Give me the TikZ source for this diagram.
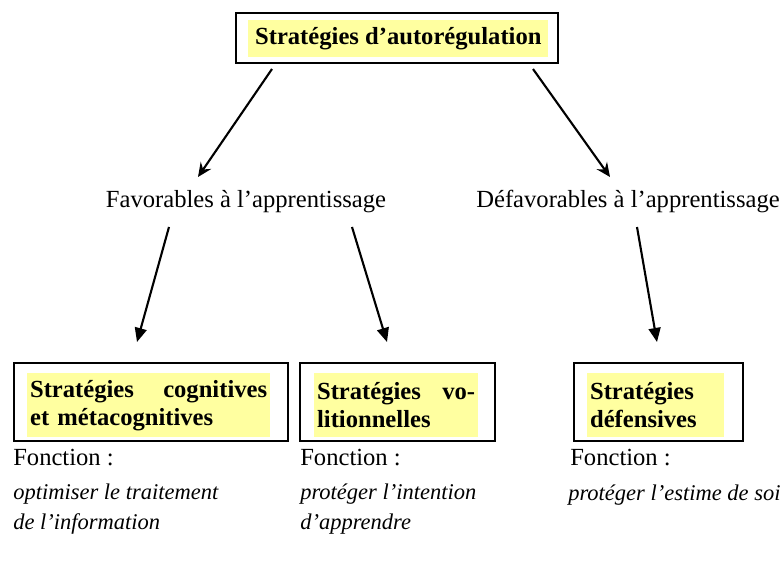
\documentclass[tikz,border=0pt]{standalone}
\usepackage{fontspec}
\setmainfont{Liberation Serif}
\usetikzlibrary{arrows.meta}
\definecolor{surligne}{RGB}{255,255,160}
\tikzset{
  cadre/.style={draw, line width=1.4pt, anchor=north west, inner sep=0pt},
  fond/.style={fill=surligne, anchor=north west, inner xsep=2pt, inner ysep=0pt, align=left, font=\bfseries\fontsize{17.5}{20}\selectfont},
  branche/.style={font=\fontsize{17.5}{20}\selectfont, anchor=base, inner sep=0pt},
  fonction/.style={anchor=base west, inner sep=0pt, align=left, font=\fontsize{17.5}{20}\selectfont},
  detail/.style={anchor=base west, inner sep=0pt, align=left, font=\itshape\fontsize{16}{21.3}\selectfont},
  fleche/.style={line width=1.5pt, -{Stealth[length=10pt, width=9pt, inset=3.5pt]}},
  flechebas/.style={line width=1.5pt, -{Triangle[length=10pt, width=8.5pt]}}
}
\begin{document}
\begin{tikzpicture}[x=0.025cm, y=-0.025cm]
    \useasboundingbox (0,0) rectangle (781,563);
    % Titre
    \node[cadre, minimum width=8.05cm, minimum height=1.25cm] (top) at (235,12) {};
    \node[fond, minimum width=7.5cm, minimum height=0.925cm, align=center] (topT) at (248,20) {Stratégies d'autorégulation};
    % Deux branches
    \node[branche] (fav) at (246,208) {Favorables à l'apprentissage};
    \node[branche, anchor=base east] (defav) at (780,208) {Défavorables à l'apprentissage};
    % Boites du bas
    \node[cadre, minimum width=6.85cm, minimum height=1.95cm] (cog) at (13,362) {};
    \node[fond, text width=5.925cm, minimum height=1.6cm] (cogT) at (27,373) {Stratégies\hfill cognitives\\et métacognitives};
    \node[cadre, minimum width=4.875cm, minimum height=1.95cm] (vol) at (299,362) {};
    \node[fond, text width=3.95cm, minimum height=1.6cm] (volT) at (314,373) {Stratégies\hfill vo-\\litionnelles};
    \node[cadre, minimum width=4.225cm, minimum height=1.95cm] (def) at (573,362) {};
    \node[fond, text width=3.275cm, minimum height=1.6cm] (defT) at (587,373) {Stratégies\\défensives};
    % Fonctions
    \node[fonction] (fct1) at (13,465) {Fonction :};
    \node[detail] (det1) at (13,529) {optimiser le traitement\\de l'information};
    \node[fonction] (fct2) at (300,465) {Fonction :};
    \node[detail] (det2) at (300,529) {protéger l'intention\\d'apprendre};
    \node[fonction] (fct3) at (570,465) {Fonction :};
    \node[detail] (det3) at (568,500) {protéger l'estime de soi};
    % Extremites des fleches
    \coordinate (d1) at (272,69);
    \coordinate (f1) at (198,177);
    \coordinate (d2) at (533,69);
    \coordinate (f2) at (610,177);
    \coordinate (d3) at (169,227);
    \coordinate (f3) at (137,342);
    \coordinate (d4) at (352,227);
    \coordinate (f4) at (387,342);
    \coordinate (d5) at (637,227);
    \coordinate (f5) at (657,342);
    \draw[fleche] (d1) -- (f1);
    \draw[fleche] (d2) -- (f2);
    \draw[flechebas] (d3) -- (f3);
    \draw[flechebas] (d4) -- (f4);
    \draw[flechebas] (d5) -- (f5);
\end{tikzpicture}
\end{document}
